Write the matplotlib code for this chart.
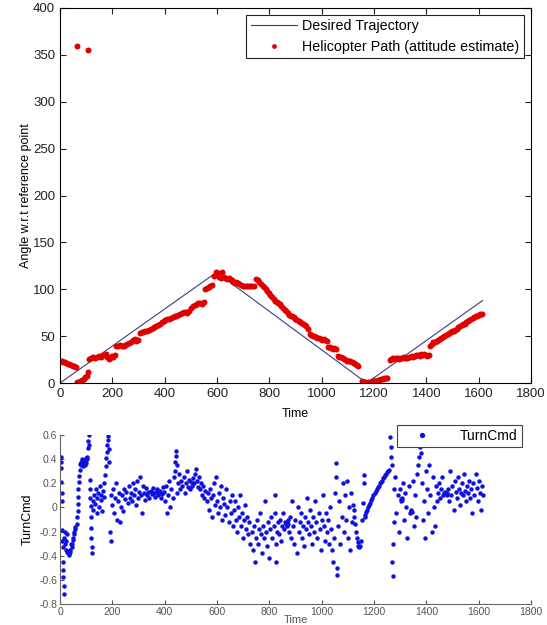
import numpy as np
import matplotlib
matplotlib.use('Agg')
from matplotlib import pyplot as plt

plt.rcParams['font.family'] = ['Liberation Sans', 'DejaVu Sans']

# desired trajectory (corner points)
desired_t = [0, 598, 1172, 1615]
desired_ang = [0, 118, 0, 88]

# helicopter path (attitude estimate)
heli_t = [64, 106,
          0, 6, 12, 18, 24, 30, 36, 42, 48, 54, 60,
          66, 72, 78, 84, 90, 96, 102, 108,
          110, 118, 126, 134, 142, 150, 158, 166, 174, 180, 186, 192, 198, 204, 210,
          215, 222, 229, 236, 243, 250, 257, 264, 271, 278, 285, 292, 299,
          305, 312, 319, 326, 333, 340, 347, 354, 361, 368, 375, 382, 389, 396, 403, 410,
          417, 424, 431, 438, 445, 452, 459, 466, 473, 480, 487, 494, 501, 508, 515, 522,
          529, 536, 543, 550,
          556, 562, 568, 574, 580,
          590, 596, 602, 608, 614, 620, 626, 632, 638, 644, 650, 656, 662, 668, 674, 680,
          686, 692, 698, 704, 710, 716, 722, 728, 734, 740,
          750, 756, 762, 768, 774, 780, 786, 792, 798, 804, 810, 816, 822, 828, 834, 840,
          846, 852, 858, 864, 870, 876, 882, 888, 894, 900, 906, 912, 918, 924, 930, 936, 942,
          948, 954, 960, 966, 972, 978, 984, 990, 996, 1002, 1008, 1014, 1020,
          1025, 1031, 1037, 1043, 1049, 1055,
          1062, 1068, 1074, 1080, 1086, 1092, 1098, 1104, 1110, 1116, 1122, 1128, 1134, 1140,
          1155, 1161, 1167, 1173, 1179, 1185, 1191, 1197, 1203, 1209, 1215, 1221, 1227, 1233,
          1239, 1245, 1251,
          1260, 1266, 1272, 1278, 1284, 1290, 1296, 1302, 1308, 1314, 1320, 1326, 1332, 1338,
          1344, 1350, 1356, 1362, 1368, 1374, 1380, 1386, 1392, 1398, 1404, 1410,
          1415, 1421, 1427, 1433, 1439, 1445, 1451, 1457, 1463, 1469, 1475, 1481, 1487, 1493,
          1499, 1505, 1511, 1517, 1523, 1529, 1535, 1541, 1547, 1553, 1559, 1565, 1571, 1577,
          1583, 1589, 1595, 1601, 1607, 1613]
heli_ang = [359, 355,
            24, 23, 22, 22, 21, 20, 20, 19, 18, 18, 17,
            1, 0, 2, 3, 4, 6, 8, 12,
            26, 27, 28, 27, 28, 29, 28, 30, 31, 28, 26, 27, 29, 28, 30,
            40, 40, 41, 40, 40, 41, 42, 43, 44, 46, 47, 45, 46,
            53, 54, 54, 55, 56, 57, 58, 59, 60, 61, 62, 63, 65, 66, 67, 68,
            68, 69, 70, 71, 72, 73, 74, 75, 76, 76, 75, 77, 80, 82, 83, 84,
            85, 85, 84, 86,
            100, 101, 102, 103, 105,
            114, 118, 117, 113, 112, 118, 113, 112, 111, 112, 111, 110, 108, 107, 108, 107,
            106, 105, 104, 104, 103, 103, 104, 103, 103, 103,
            111, 110, 108, 106, 104, 102, 100, 98, 96, 94, 92, 90, 88, 86, 85, 84,
            82, 80, 78, 77, 75, 73, 72, 71, 70, 68, 67, 66, 65, 64, 63, 62, 61,
            58, 52, 51, 50, 50, 49, 48, 48, 47, 46, 47, 46, 45,
            38, 38, 37, 36, 37, 36,
            29, 28, 28, 27, 26, 25, 24, 23, 23, 22, 21, 20, 19, 18,
            2, 1, 1, 0, 1, 1, 2, 1, 2, 2, 3, 3, 4, 4,
            5, 5, 5,
            25, 26, 27, 26, 27, 27, 26, 27, 27, 28, 27, 27, 28, 28,
            29, 28, 29, 30, 30, 29, 31, 30, 31, 30, 29, 30,
            40, 42, 44, 44, 45, 46, 47, 48, 49, 50, 51, 52, 53, 54,
            55, 56, 57, 58, 60, 61, 62, 63, 63, 65, 66, 67, 68, 69,
            70, 71, 72, 73, 74, 74]

# turn command
turn_t = [2, 3, 4, 5, 6, 7, 8, 9, 10, 11, 12, 13, 14, 15,
          16, 18, 20, 22, 24, 26, 28, 30, 32, 34, 36, 38, 40, 42,
          44, 46, 48, 50, 52, 54, 56, 58,
          64, 66, 67, 68, 69, 70, 72, 74, 76,
          78, 80, 82, 84, 86, 88, 90, 92, 94, 96, 98, 100, 102, 104,
          106, 108, 110, 112,
          114, 115, 116, 117, 118, 119, 120, 121, 122,
          125, 128, 131, 134, 137, 140, 143, 146, 149, 152, 155, 158, 161, 164, 167, 170,
          172, 174, 176, 178, 180, 182, 184, 186, 188,
          190, 193, 196, 198,
          202, 206, 210, 214, 218, 222, 226, 230, 234, 238, 242, 246, 250, 254, 258, 262, 266,
          270, 274, 278, 282, 286, 290, 294, 298, 302, 306, 310, 314, 318, 322, 326, 330,
          334, 338, 342, 346, 350, 354, 358, 362, 366, 370, 374, 378, 382, 386, 390, 394, 398,
          402, 406, 410, 414, 418, 422, 426, 430, 434, 438, 440, 442, 444, 446, 448,
          452, 456, 460, 464, 468, 472, 476, 480, 484, 488, 492, 496, 500, 504, 508, 512,
          516, 520, 524, 528,
          532, 536, 540, 544, 548, 552, 556,
          560, 564, 568, 572, 576, 580, 584, 588, 592, 596, 600, 604, 608, 612, 616, 620,
          624, 628, 632, 636, 640, 644, 648,
          652, 656, 660, 664, 668, 672, 676, 680, 684, 688, 692, 696, 700, 704, 708, 712,
          716, 720, 724, 728,
          732, 736, 740, 744, 748, 752, 756, 760, 764, 768, 772, 776, 780, 784, 788, 792,
          796, 800,
          804, 808, 812, 816, 820, 822, 824, 826, 828, 832, 836, 840, 844, 848, 852, 856,
          860, 862, 864, 866, 868, 870, 872, 876, 880,
          884, 888, 892, 896, 900, 904, 908, 912, 916, 920, 924, 928, 932, 936, 940, 944,
          948, 952, 956, 960, 964, 968, 972, 976, 980, 984, 988, 992, 996, 1000, 1004, 1008,
          1012, 1016, 1020,
          1024, 1028, 1032, 1036, 1040, 1044, 1048, 1052, 1054, 1056, 1058, 1060, 1064, 1068,
          1072, 1076,
          1080, 1084, 1088, 1092, 1096, 1100, 1104, 1108, 1112, 1116, 1120,
          1122, 1125, 1128, 1131, 1134, 1137, 1140, 1143, 1146,
          1150, 1155, 1158, 1160, 1162, 1164,
          1166, 1170, 1174, 1178, 1182, 1186, 1190, 1194, 1198, 1202, 1206, 1210, 1214, 1218,
          1222, 1226, 1230, 1234, 1238, 1242, 1246, 1250, 1254, 1258,
          1262, 1264, 1266, 1268, 1270, 1272, 1274, 1276, 1278,
          1282, 1286, 1290, 1294, 1298, 1302, 1304, 1306, 1308, 1312, 1316, 1320, 1324, 1328,
          1332, 1336, 1340, 1342, 1344, 1348, 1352, 1356, 1360, 1364,
          1368, 1372, 1376, 1380, 1384, 1388, 1392, 1396, 1400,
          1404, 1408, 1412, 1416, 1420, 1424, 1428, 1432, 1436, 1440,
          1444, 1448, 1452, 1456, 1460, 1464, 1468, 1472, 1476, 1478, 1480, 1484, 1488, 1492,
          1496, 1500, 1504, 1508, 1512, 1516, 1520, 1524, 1528, 1532, 1536, 1540, 1544, 1548,
          1552, 1556, 1560, 1564, 1568, 1572, 1576, 1580, 1584, 1588, 1592, 1596, 1600, 1604,
          1608, 1612, 1616]
turn_cmd = [0.42, 0.38, 0.33, 0.21, 0.12, 0.05, -0.19, -0.28, -0.33, -0.45, -0.52, -0.58, -0.65, -0.72,
            -0.25, -0.2, -0.3, -0.28, -0.35, -0.22, -0.37, -0.38, -0.36, -0.39, -0.38, -0.37, -0.35, -0.3,
            -0.33, -0.3, -0.27, -0.25, -0.22, -0.2, -0.18, -0.16,
            -0.14, -0.08, -0.03, 0.03, 0.09, 0.15, 0.21, 0.26, 0.31,
            0.36, 0.38, 0.35, 0.4, 0.37, 0.34, 0.36, 0.39, 0.35, 0.38, 0.41, 0.37, 0.4, 0.42,
            0.49, 0.55, 0.6, 0.52,
            0.23, 0.15, 0.08, 0.01, -0.08, -0.17, -0.25, -0.33, -0.38,
            0.05, -0.02, 0.1, 0.03, 0.15, -0.05, 0.08, 0.12, 0.0, 0.18, 0.06, 0.1, -0.03, 0.14, 0.09, 0.2,
            0.27, 0.34, 0.41, 0.46, 0.52, 0.56, 0.59, 0.48, 0.38,
            -0.2, -0.28, 0.1, 0.02,
            0.15, -0.05, 0.08, 0.2, -0.1, 0.05, 0.12, -0.12, 0.0, 0.1, -0.03, 0.15, 0.07, 0.13, 0.04, 0.18, 0.08,
            0.12, 0.05, 0.2, 0.1, 0.15, 0.02, 0.22, 0.08, 0.13, 0.25, 0.1, -0.05, 0.18, 0.12, 0.06, 0.16,
            0.1, 0.13, 0.08, 0.14, 0.11, 0.16, 0.12, 0.09, 0.13, 0.15, 0.1, 0.12, 0.14, 0.08, 0.11, 0.17, 0.13,
            0.05, 0.18, -0.05, 0.1, 0.22, 0.0, 0.15, 0.08, 0.25, 0.3, 0.38, 0.43, 0.47, 0.35, 0.12,
            0.2, 0.28, 0.15, 0.22, 0.18, 0.25, 0.12, 0.2, 0.3, 0.17, 0.23, 0.15, 0.21, 0.18, 0.24, 0.2,
            0.28, 0.32, 0.22, 0.17,
            0.25, 0.15, 0.2, 0.1, 0.18, 0.08, 0.14,
            0.05, 0.12, -0.02, 0.15, 0.08, -0.08, 0.1, 0.2, 0.02, 0.25, 0.05, -0.05, 0.12, 0.0, 0.18, -0.1,
            0.08, 0.03, -0.06, 0.15, 0.0, -0.12, 0.05,
            -0.05, 0.1, -0.15, -0.02, 0.05, -0.1, -0.2, 0.0, -0.08, 0.1, -0.15, -0.05, -0.25, -0.1, 0.02, -0.18,
            -0.08, -0.22, -0.12, -0.3,
            -0.2, -0.35, -0.15, -0.45, -0.25, -0.1, -0.3, -0.18, -0.05, -0.22, -0.38, -0.15, -0.25, 0.05, -0.2, -0.32,
            -0.12, -0.42,
            -0.18, -0.08, -0.25, -0.15, 0.1, -0.05, -0.3, -0.45, -0.2, -0.12, -0.22, -0.1, -0.28, -0.15, -0.05, -0.18,
            -0.12, -0.14, -0.13, -0.15, -0.12, -0.14, -0.1, -0.2, -0.08,
            -0.25, 0.05, -0.15, -0.3, -0.1, -0.38, 0.0, -0.2, -0.12, -0.05, -0.25, -0.15, -0.32, -0.08, -0.18, 0.08,
            -0.12, -0.22, -0.02, -0.15, -0.3, -0.08, -0.2, 0.05, -0.12, -0.25, -0.05, -0.18, -0.35, -0.1, 0.1, -0.15,
            -0.28, -0.05, -0.2,
            -0.1, -0.3, 0.0, -0.18, -0.35, -0.45, -0.25, 0.12, 0.25, 0.37, -0.5, -0.56, -0.15, 0.05,
            -0.3, -0.08,
            0.2, -0.2, 0.1, -0.1, 0.22, -0.25, 0.0, -0.35, 0.12, -0.12, 0.02,
            -0.02, -0.08, -0.14, -0.2, -0.25, -0.29, -0.32, -0.33, -0.32,
            -0.28, -0.1, 0.04, 0.2, 0.27, -0.08,
            -0.06, -0.04, -0.02, 0.0, 0.02, 0.04, 0.06, 0.08, 0.1, 0.12, 0.14, 0.15, 0.17, 0.18,
            0.2, 0.21, 0.22, 0.24, 0.25, 0.27, 0.28, 0.29, 0.3, 0.31,
            0.58, 0.5, 0.42, 0.35, -0.45, -0.57, -0.3, 0.15, -0.12,
            0.25, -0.05, 0.1, -0.2, 0.15, 0.05, 0.07, 0.06, 0.08, 0.2, -0.1, 0.12, 0.0, -0.25,
            0.18, -0.05, -0.03, -0.02, -0.04, 0.22, -0.15, 0.1, -0.08, 0.28,
            0.35, 0.42, 0.5, 0.45, 0.2, -0.1, 0.05, -0.25, 0.3,
            0.15, -0.05, 0.35, 0.1, -0.2, 0.25, 0.0, -0.15, 0.18, 0.05,
            0.12, 0.2, 0.08, 0.15, 0.25, 0.1, 0.12, 0.13, 0.11, 0.1, 0.12, 0.15, 0.05, 0.3,
            0.1, 0.18, -0.02, 0.22, 0.13, 0.08, 0.25, 0.15, 0.02, 0.12, 0.2, 0.1, 0.28, 0.14,
            0.05, 0.18, 0.12, 0.22, 0.08, 0.15, -0.05, 0.2, 0.1, 0.28, 0.16, 0.05, 0.22, 0.12,
            -0.02, 0.18, 0.1]

fig = plt.figure(figsize=(5.47, 6.25), dpi=100)

# top: angle
ax1 = fig.add_axes([0.1097, 0.3872, 0.861, 0.6])
ax1.plot(desired_t, desired_ang, color='#3c3c80', lw=0.8, label='Desired Trajectory')
ax1.plot(heli_t, heli_ang, 'o', color='#e00000', ms=4.3, mew=0,
         label='Helicopter Path (attitude estimate)')
ax1.set_xlim(0, 1800)
ax1.set_ylim(0, 400)
ax1.set_xticks(np.arange(0, 1801, 200))
ax1.set_yticks(np.arange(0, 401, 50))
ax1.tick_params(direction='in', top=True, right=True, labelsize=9.5, length=4,
                colors='#222222')
ax1.set_xlabel('Time', fontsize=9, labelpad=6)
ax1.set_ylabel('Angle w.r.t reference point', fontsize=9, labelpad=1)
leg = ax1.legend(loc='upper right', fontsize=10.3, fancybox=False, framealpha=1,
                 edgecolor='#222222', borderpad=0.3, handlelength=3.2, labelspacing=0.45,
                 handletextpad=0.4, borderaxespad=0.5, markerscale=0.8)
leg.get_frame().set_linewidth(0.8)

# bottom: turn command
ax2 = fig.add_axes([0.1097, 0.0336, 0.861, 0.2704])
ax2.plot(turn_t, turn_cmd, 'o', color='#1010e0', ms=3.2, mew=0, label='TurnCmd')
ax2.set_xlim(0, 1800)
ax2.set_ylim(-0.8, 0.6)
ax2.set_xticks(np.arange(0, 1801, 200))
ax2.set_yticks(np.round(np.arange(-0.8, 0.61, 0.2), 1))
ax2.set_yticklabels(['-0.8', '-0.6', '-0.4', '-0.2', '0', '0.2', '0.4', '0.6'])
ax2.spines['top'].set_visible(False)
ax2.spines['right'].set_visible(False)
ax2.spines['left'].set_color('#666666')
ax2.spines['bottom'].set_color('#666666')
ax2.tick_params(direction='in', labelsize=7.5, length=3, colors='#555555', pad=2)
ax2.set_xlabel('Time', fontsize=8, labelpad=-1, color='#555555')
ax2.set_ylabel('TurnCmd', fontsize=9, labelpad=4)
leg2 = ax2.legend(loc='upper right', bbox_to_anchor=(0.995, 1.1), fontsize=10,
                  fancybox=False, framealpha=1, edgecolor='#444444', borderpad=0.3,
                  handlelength=3.0, handletextpad=1.2, markerscale=1.2)
leg2.get_frame().set_linewidth(0.8)

fig.savefig('out.png', dpi=100)
